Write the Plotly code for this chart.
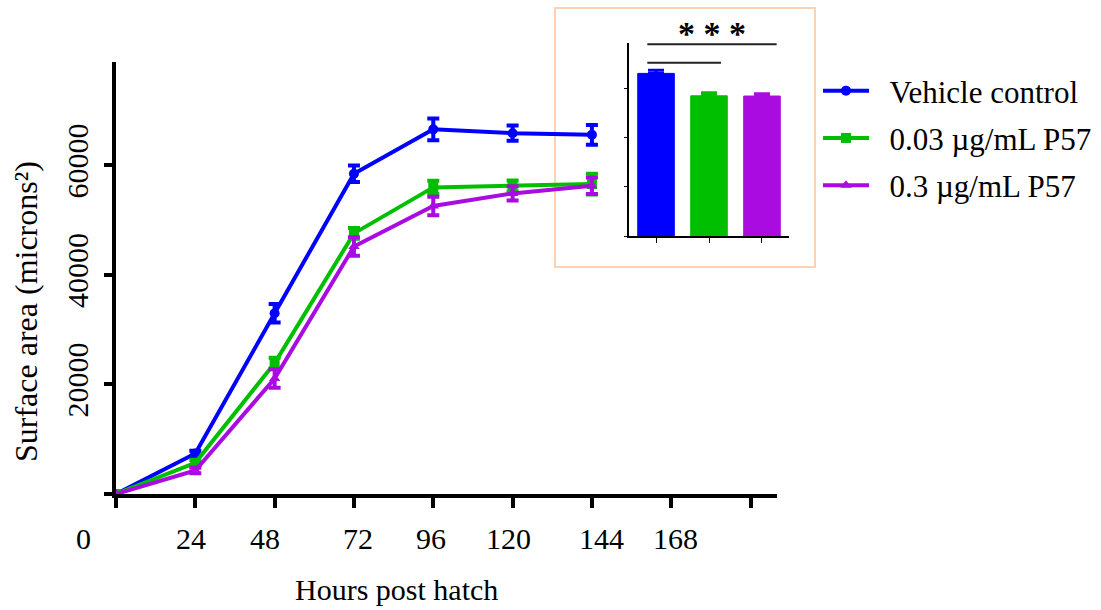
import plotly.graph_objects as go

# ---------------- data ----------------
hours = [0, 24, 48, 72, 96, 120, 144]
vehicle = [0, 7400, 33000, 58500, 66600, 65900, 65600]
vehicle_err = [0, 500, 1700, 1500, 2000, 1400, 1800]
p57_003 = [0, 5700, 23900, 47600, 56000, 56250, 56600]
p57_003_err = [0, 500, 1000, 1000, 1200, 1000, 1900]
p57_03 = [0, 4300, 21100, 45200, 52600, 54900, 56300]
p57_03_err = [0, 500, 1700, 1700, 1700, 1300, 1500]

series_names = ["Vehicle control", "0.03 \u00b5g/mL P57", "0.3 \u00b5g/mL P57"]
colors = ["#0000FF", "#00BF00", "#AA0BE0"]
symbols = ["circle", "square", "triangle-up"]

inset_groups = ["Vehicle", "0.03", "0.3"]
inset_values = [66100, 57000, 56900]
inset_err = [1300, 1200, 900]

x_tick_vals = [0, 24, 48, 72, 96, 120, 144, 168, 192]
x_tick_labels = ["0", "24", "48", "72", "96", "120", "144", "168"]
y_tick_vals = [0, 20000, 40000, 60000]
y_tick_labels = ["", "20000", "40000", "60000"]

FONT = "Liberation Serif, Times New Roman, serif"
FS = 30

fig = go.Figure()

for name, ys, es, c, s in zip(series_names, [vehicle, p57_003, p57_03],
                              [vehicle_err, p57_003_err, p57_03_err], colors, symbols):
    fig.add_trace(go.Scatter(
        x=hours, y=ys, name="\u00a0\u00a0" + name, mode="lines+markers",
        line=dict(color=c, width=4),
        marker=dict(symbol=s, size=10, color=c),
        error_y=dict(type="data", array=es, visible=True, color=c, thickness=4, width=6),
        xaxis="x", yaxis="y", legendgroup=name,
    ))

for i in range(3):
    fig.add_trace(go.Bar(
        x=[i], y=[inset_values[i]], name=inset_groups[i],
        marker=dict(color=colors[i], line=dict(color=colors[i], width=1)),
        width=0.69,
        error_y=dict(type="data", array=[inset_err[i]], arrayminus=[0], visible=True,
                     color=colors[i], thickness=3, width=8),
        xaxis="x2", yaxis="y2", showlegend=False,
    ))

L, R, T, B = 116, 312, 40, 116
W, H = 1101, 610
pw = W - L - R
ph = H - T - B


def px(xp):
    return (xp - L) / pw


def py(yp):
    return (H - B - yp) / ph


fig.update_layout(
    width=W, height=H,
    margin=dict(l=L, r=R, t=T, b=B, autoexpand=False),
    paper_bgcolor="white", plot_bgcolor="rgba(0,0,0,0)",
    font=dict(family=FONT, size=FS, color="black"),
    showlegend=True,
    barmode="overlay",
    legend=dict(x=px(818), y=py(64), xanchor="left", yanchor="top",
                font=dict(family=FONT, size=31), bgcolor="rgba(0,0,0,0)",
                traceorder="grouped", tracegroupgap=4, itemwidth=46),
    xaxis=dict(domain=[0, px(777)], range=[0, 200], showline=True, linewidth=4,
               linecolor="black", ticks="outside", ticklen=10, tickwidth=4,
               tickcolor="black", tickvals=x_tick_vals, showticklabels=False,
               showgrid=False, zeroline=False, anchor="y"),
    yaxis=dict(domain=[0, py(62)], range=[0, 78900], showline=True, linewidth=4,
               linecolor="black", ticks="outside", ticklen=8, tickwidth=4,
               tickcolor="black", tickvals=y_tick_vals, ticktext=y_tick_labels,
               tickangle=-90, ticklabelstandoff=4,
               tickfont=dict(family=FONT, size=FS),
               showgrid=False, zeroline=False, anchor="x"),
    xaxis2=dict(domain=[px(629), px(789)], range=[-0.51, 2.51], showline=True,
                linewidth=2, linecolor="black", ticks="outside", ticklen=5,
                tickwidth=1, tickcolor="black", tickvals=[0, 1, 2],
                showticklabels=False, showgrid=False, zeroline=False, anchor="y2"),
    yaxis2=dict(domain=[py(236), py(43)], range=[0, 78460], showline=True,
                linewidth=1.5, linecolor="black", ticks="outside", ticklen=3,
                tickwidth=1, tickcolor="black", tickvals=[0, 20000, 40000, 60000],
                showticklabels=False, showgrid=False, zeroline=False, anchor="x2"),
)

# x tick labels (placed as in the reference), pixel centres
x_label_px = [83, 191, 265, 358, 431, 508, 601, 675]
for lab, xp in zip(x_tick_labels, x_label_px):
    fig.add_annotation(x=px(xp), y=py(538), xref="paper", yref="paper", text=lab,
                       showarrow=False, xanchor="center", yanchor="middle",
                       font=dict(family=FONT, size=FS))

fig.add_annotation(x=px(396), y=py(589), xref="paper", yref="paper",
                   text="Hours post hatch", showarrow=False, xanchor="center",
                   yanchor="middle", font=dict(family=FONT, size=FS))
fig.add_annotation(x=px(26), y=py(312), xref="paper", yref="paper",
                   text="Surface area (microns\u00b2)", textangle=-90, showarrow=False,
                   xanchor="center", yanchor="middle", font=dict(family=FONT, size=32))

# inset frame
fig.add_shape(type="rect", xref="paper", yref="paper", x0=px(555), x1=px(815),
              y0=py(267), y1=py(8), line=dict(color="#F9D3B4", width=2), layer="below")
# significance lines
fig.add_shape(type="line", xref="x2", yref="y2", x0=-0.164, x1=2.277, y0=77930, y1=77930,
              line=dict(color="#222222", width=2))
fig.add_shape(type="line", xref="x2", yref="y2", x0=-0.164, x1=1.226, y0=70450, y1=70450,
              line=dict(color="#222222", width=2))
fig.add_annotation(x=1.05, y=py(34), xref="x2", yref="paper", text="<b>* * *</b>",
                   showarrow=False, xanchor="center", yanchor="middle",
                   font=dict(family=FONT, size=34, color="black"))

fig.write_html("out.html")
